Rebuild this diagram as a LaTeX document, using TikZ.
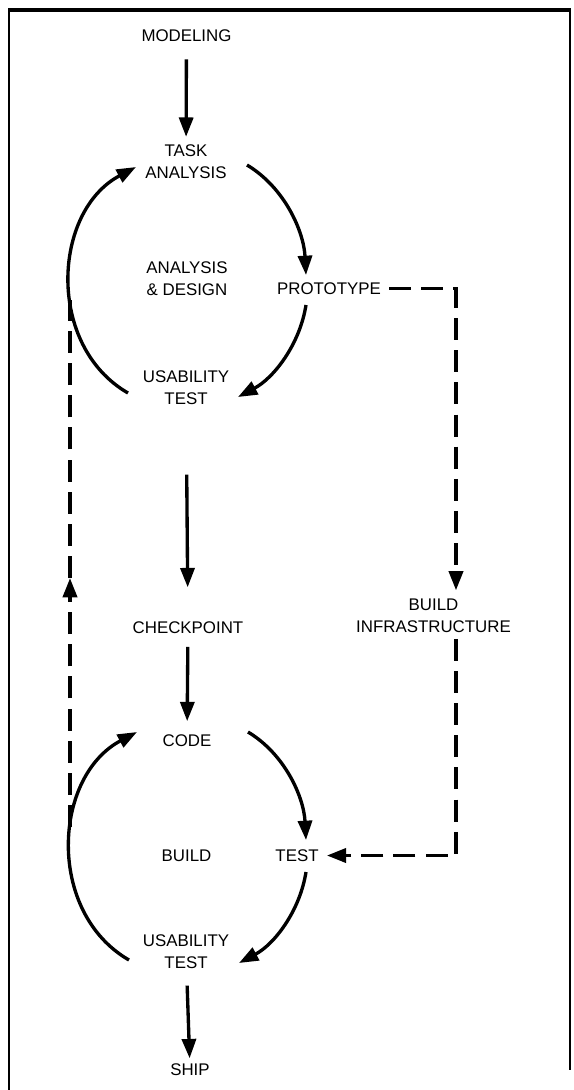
\documentclass[tikz,border=0pt]{standalone}
\usepackage{fontspec}
\setmainfont{Liberation Sans}
\usetikzlibrary{arrows.meta,calc}
\tikzset{
	stage/.style={align=center, inner sep=0pt, font=\fontsize{9.6}{12.5}\selectfont},
	flow/.style={-{Triangle[length=11pt,width=8pt]}, line width=1.9pt},
	dashflow/.style={flow, line width=2.1pt, dash pattern=on 12.5pt off 5.8pt}
}

\begin{document}
\begin{tikzpicture}[x=0.02cm, y=0.02cm]
	\useasboundingbox (0,0) rectangle (574,-1090);
	% frame
	\draw[line width=2pt] (8,-10) -- (571,-10);
	\draw[line width=1.1pt] (9,-10) -- (9,-1090);
	\draw[line width=0.7pt] (570,-10) -- (570,-1070);

	% analysis and design cycle
	\node[stage] (model) at (186.5,-35.5) {MODELING};
	\node[stage] (ta) at (186,-162) {TASK\\ANALYSIS};
	\node[stage] (ad) at (187,-278.5) {ANALYSIS\\\& DESIGN};
	\node[stage] (proto) at (329,-288.5) {PROTOTYPE};
	\node[stage] (ut1) at (186,-387.5) {USABILITY\\TEST};
	\node[stage] (chk) at (188,-627.5) {CHECKPOINT};
	\node[stage] (infra) at (433.5,-615.5) {BUILD\\INFRASTRUCTURE};

	% build cycle
	\node[stage] (code) at (187,-740.5) {CODE};
	\node[stage] (build) at (186.5,-855.5) {BUILD};
	\node[stage] (test) at (297,-855.5) {TEST};
	\node[stage] (ut2) at (186,-951.5) {USABILITY\\TEST};
	\node[stage] (ship) at (190,-1069.5) {SHIP};

	\coordinate (rx) at (456,0);
	\coordinate (lo) at (70,-827);
	\coordinate (mid) at (70,-578);
	\coordinate (hi) at (70,-300);

	\draw[flow, shorten <=10pt, shorten >=4.5pt] (model) -- (ta);
	\draw[flow] ($(ta)+(61,-3)$) to[out=-31, in=93, looseness=0.9] ($(proto)+(-23,13.5)$);
	\draw[flow] ($(proto)+(-23,-16.5)$) to[out=-99, in=28, looseness=0.9] ($(ut1)+(52,-9.5)$);
	\draw[flow] ($(ut1)+(-58,-5.5)$) to[out=150, in=208, looseness=1.07] ($(ta)+(-50,-5)$);
	\draw[flow, shorten <=39.7pt, shorten >=19.3pt] (ut1) -- (chk);
	\draw[flow, shorten <=7.4pt, shorten >=7.4pt] (chk) -- (code);

	\draw[flow] ($(code)+(61,8.5)$) to[out=-31, in=93, looseness=0.9] ($(test)+(9,15.5)$);
	\draw[flow] ($(test)+(9,-16.5)$) to[out=-99, in=28, looseness=0.9] ($(ut2)+(53,-11.5)$);
	\draw[flow] ($(ut2)+(-57,-8.5)$) to[out=150, in=208, looseness=1.07] ($(code)+(-50,8.5)$);
	\draw[flow, shorten <=9.6pt, shorten >=2.8pt] (ut2) -- (ship);

	% prototype path
	\draw[dashflow, shorten <=4.5pt, shorten >=4.5pt] (proto.east) -| (rx |- infra.north);
	\draw[dashflow, shorten <=3.5pt, shorten >=4.5pt] (rx |- infra.south) |- (test.east);
	\draw[dashflow] (lo) -- (mid);
	\draw[line width=2.1pt, dash pattern=on 12.5pt off 5.8pt] (mid) -- (hi);
\end{tikzpicture}
\end{document}
